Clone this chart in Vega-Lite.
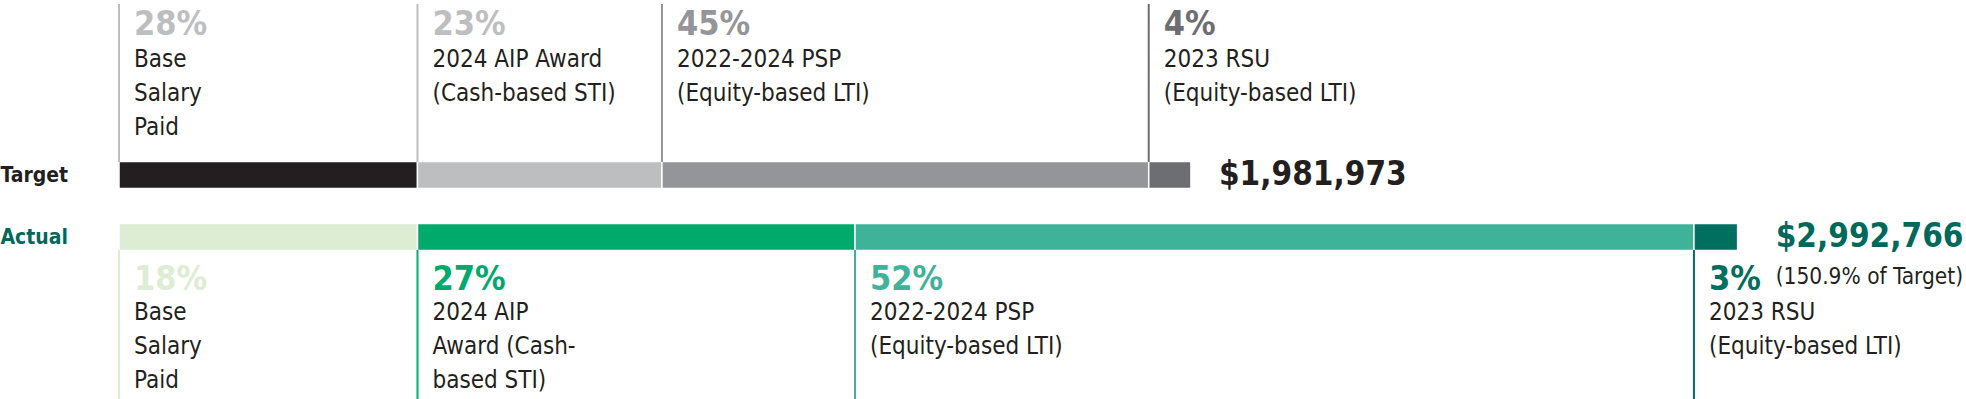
{
  "$schema": "https://vega.github.io/schema/vega-lite/v6.json",
  "width": 1966,
  "height": 399,
  "autosize": {"type": "fit", "contains": "padding"},
  "padding": 0,
  "background": "white",
  "config": {
    "view": {"stroke": null},
    "font": "DejaVu Sans Condensed, Liberation Sans Narrow, sans-serif",
    "text": {"lineBreak": "\n"}
  },
  "datasets": {
    "segs": [
      {"row": "Target", "seg": "T1", "order": 1, "component": "Base Salary Paid", "amount": 551900, "pct": "28%", "label": "Base\nSalary\nPaid"},
      {"row": "Target", "seg": "T2", "order": 2, "component": "2024 AIP Award", "amount": 452000, "pct": "23%", "label": "2024 AIP Award\n(Cash-based STI)"},
      {"row": "Target", "seg": "T3", "order": 3, "component": "2022-2024 PSP", "amount": 900000, "pct": "45%", "label": "2022-2024 PSP\n(Equity-based LTI)"},
      {"row": "Target", "seg": "T4", "order": 4, "component": "2023 RSU", "amount": 78073, "pct": "4%", "label": "2023 RSU\n(Equity-based LTI)"},
      {"row": "Actual", "seg": "A1", "order": 1, "component": "Base Salary Paid", "amount": 551900, "pct": "18%", "label": "Base\nSalary\nPaid"},
      {"row": "Actual", "seg": "A2", "order": 2, "component": "2024 AIP Award", "amount": 808900, "pct": "27%", "label": "2024 AIP\nAward (Cash-\nbased STI)"},
      {"row": "Actual", "seg": "A3", "order": 3, "component": "2022-2024 PSP", "amount": 1551200, "pct": "52%", "label": "2022-2024 PSP\n(Equity-based LTI)"},
      {"row": "Actual", "seg": "A4", "order": 4, "component": "2023 RSU", "amount": 80766, "pct": "3%", "label": "2023 RSU\n(Equity-based LTI)"}
    ],
    "totals": [
      {"row": "Target", "total": 1981973, "note": ""},
      {"row": "Actual", "total": 2992766, "note": "(150.9% of Target)"}
    ]
  },
  "resolve": {"scale": {"color": "independent"}},
  "layer": [
    {
      "data": {"name": "segs"},
      "transform": [
        {"stack": "amount", "groupby": ["row"], "sort": [{"field": "order", "order": "ascending"}], "as": ["x0", "x1"]}
      ],
      "mark": {"type": "bar", "size": 27, "stroke": "white", "strokeWidth": 1.5},
      "encoding": {
        "x": {"field": "x0", "type": "quantitative", "scale": {"domain": [0, 3415000], "nice": false, "zero": false}, "axis": null},
        "x2": {"field": "x1"},
        "y": {
          "field": "row", "type": "nominal",
          "scale": {"type": "point", "domain": ["Target", "Actual"], "range": [175, 237], "padding": 0},
          "axis": {
            "title": null, "domain": false, "ticks": false, "grid": false,
            "labelAlign": "left", "labelBaseline": "middle", "labelPadding": 119,
            "minExtent": 119, "maxExtent": 119,
            "labelFontSize": 21, "labelFontWeight": "bold",
            "labelFont": "DejaVu Sans Condensed, Liberation Sans Narrow, sans-serif",
            "labelColor": {"condition": {"test": "datum.value === 'Actual'", "value": "#00695C"}, "value": "#231F20"}
          }
        },
        "color": {
          "field": "seg", "type": "nominal", "legend": null,
          "scale": {
            "domain": ["T1", "T2", "T3", "T4", "A1", "A2", "A3", "A4"],
            "range": ["#231F20", "#BCBEC0", "#939598", "#6D6E71", "#DDEDD3", "#00AA6C", "#3FB39A", "#006F60"]
          }
        }
      }
    },
    {
      "data": {"name": "segs"},
      "transform": [
        {"stack": "amount", "groupby": ["row"], "sort": [{"field": "order", "order": "ascending"}], "as": ["x0", "x1"]},
        {"filter": "datum.row === 'Target'"}
      ],
      "mark": {"type": "rule", "strokeWidth": 2, "yOffset": -171, "y2Offset": -13},
      "encoding": {
        "x": {"field": "x0", "type": "quantitative"},
        "y": {"field": "row", "type": "nominal"},
        "y2": {"field": "row"},
        "color": {
          "field": "seg", "type": "nominal", "legend": null,
          "scale": {"domain": ["T1", "T2", "T3", "T4"], "range": ["#BCBEC0", "#BCBEC0", "#939598", "#6D6E71"]}
        }
      }
    },
    {
      "data": {"name": "segs"},
      "transform": [
        {"stack": "amount", "groupby": ["row"], "sort": [{"field": "order", "order": "ascending"}], "as": ["x0", "x1"]},
        {"filter": "datum.row === 'Actual'"}
      ],
      "mark": {"type": "rule", "strokeWidth": 2, "yOffset": 13, "y2Offset": 162},
      "encoding": {
        "x": {"field": "x0", "type": "quantitative"},
        "y": {"field": "row", "type": "nominal"},
        "y2": {"field": "row"},
        "color": {
          "field": "seg", "type": "nominal", "legend": null,
          "scale": {"domain": ["A1", "A2", "A3", "A4"], "range": ["#DDEDD3", "#00AA6C", "#3FB39A", "#006F60"]}
        }
      }
    },
    {
      "data": {"name": "segs"},
      "transform": [
        {"stack": "amount", "groupby": ["row"], "sort": [{"field": "order", "order": "ascending"}], "as": ["x0", "x1"]},
        {"filter": "datum.row === 'Target'"}
      ],
      "mark": {"type": "text", "align": "left", "baseline": "alphabetic", "dx": 15, "dy": -140, "fontSize": 34, "fontWeight": "bold"},
      "encoding": {
        "x": {"field": "x0", "type": "quantitative"},
        "y": {"field": "row", "type": "nominal"},
        "text": {"field": "pct"},
        "color": {
          "field": "seg", "type": "nominal", "legend": null,
          "scale": {"domain": ["T1", "T2", "T3", "T4"], "range": ["#BCBEC0", "#BCBEC0", "#939598", "#6D6E71"]}
        }
      }
    },
    {
      "data": {"name": "segs"},
      "transform": [
        {"stack": "amount", "groupby": ["row"], "sort": [{"field": "order", "order": "ascending"}], "as": ["x0", "x1"]},
        {"filter": "datum.row === 'Target'"}
      ],
      "mark": {"type": "text", "align": "left", "baseline": "alphabetic", "dx": 15, "dy": -108, "fontSize": 24, "lineHeight": 34, "color": "#231F20"},
      "encoding": {
        "x": {"field": "x0", "type": "quantitative"},
        "y": {"field": "row", "type": "nominal"},
        "text": {"field": "label"}
      }
    },
    {
      "data": {"name": "segs"},
      "transform": [
        {"stack": "amount", "groupby": ["row"], "sort": [{"field": "order", "order": "ascending"}], "as": ["x0", "x1"]},
        {"filter": "datum.row === 'Actual'"}
      ],
      "mark": {"type": "text", "align": "left", "baseline": "alphabetic", "dx": 15, "dy": 53, "fontSize": 34, "fontWeight": "bold"},
      "encoding": {
        "x": {"field": "x0", "type": "quantitative"},
        "y": {"field": "row", "type": "nominal"},
        "text": {"field": "pct"},
        "color": {
          "field": "seg", "type": "nominal", "legend": null,
          "scale": {"domain": ["A1", "A2", "A3", "A4"], "range": ["#DDEDD3", "#00AA6C", "#3FB39A", "#006F60"]}
        }
      }
    },
    {
      "data": {"name": "segs"},
      "transform": [
        {"stack": "amount", "groupby": ["row"], "sort": [{"field": "order", "order": "ascending"}], "as": ["x0", "x1"]},
        {"filter": "datum.row === 'Actual'"}
      ],
      "mark": {"type": "text", "align": "left", "baseline": "alphabetic", "dx": 15, "dy": 83, "fontSize": 24, "lineHeight": 34, "color": "#231F20"},
      "encoding": {
        "x": {"field": "x0", "type": "quantitative"},
        "y": {"field": "row", "type": "nominal"},
        "text": {"field": "label"}
      }
    },
    {
      "data": {"name": "totals"},
      "transform": [{"filter": "datum.row === 'Target'"}],
      "mark": {"type": "text", "align": "left", "baseline": "middle", "dx": 28, "fontSize": 33, "fontWeight": "bold", "color": "#231F20"},
      "encoding": {
        "x": {"field": "total", "type": "quantitative"},
        "y": {"field": "row", "type": "nominal"},
        "text": {"field": "total", "type": "quantitative", "format": "$,.0f"}
      }
    },
    {
      "data": {"name": "totals"},
      "transform": [{"filter": "datum.row === 'Actual'"}],
      "mark": {"type": "text", "align": "left", "baseline": "middle", "dx": 38, "fontSize": 33, "fontWeight": "bold", "color": "#00695C"},
      "encoding": {
        "x": {"field": "total", "type": "quantitative"},
        "y": {"field": "row", "type": "nominal"},
        "text": {"field": "total", "type": "quantitative", "format": "$,.0f"}
      }
    },
    {
      "data": {"name": "totals"},
      "transform": [{"filter": "datum.row === 'Actual'"}],
      "mark": {"type": "text", "align": "left", "baseline": "alphabetic", "dx": 38, "dy": 47, "fontSize": 22.5, "color": "#231F20"},
      "encoding": {
        "x": {"field": "total", "type": "quantitative"},
        "y": {"field": "row", "type": "nominal"},
        "text": {"field": "note"}
      }
    }
  ]
}
